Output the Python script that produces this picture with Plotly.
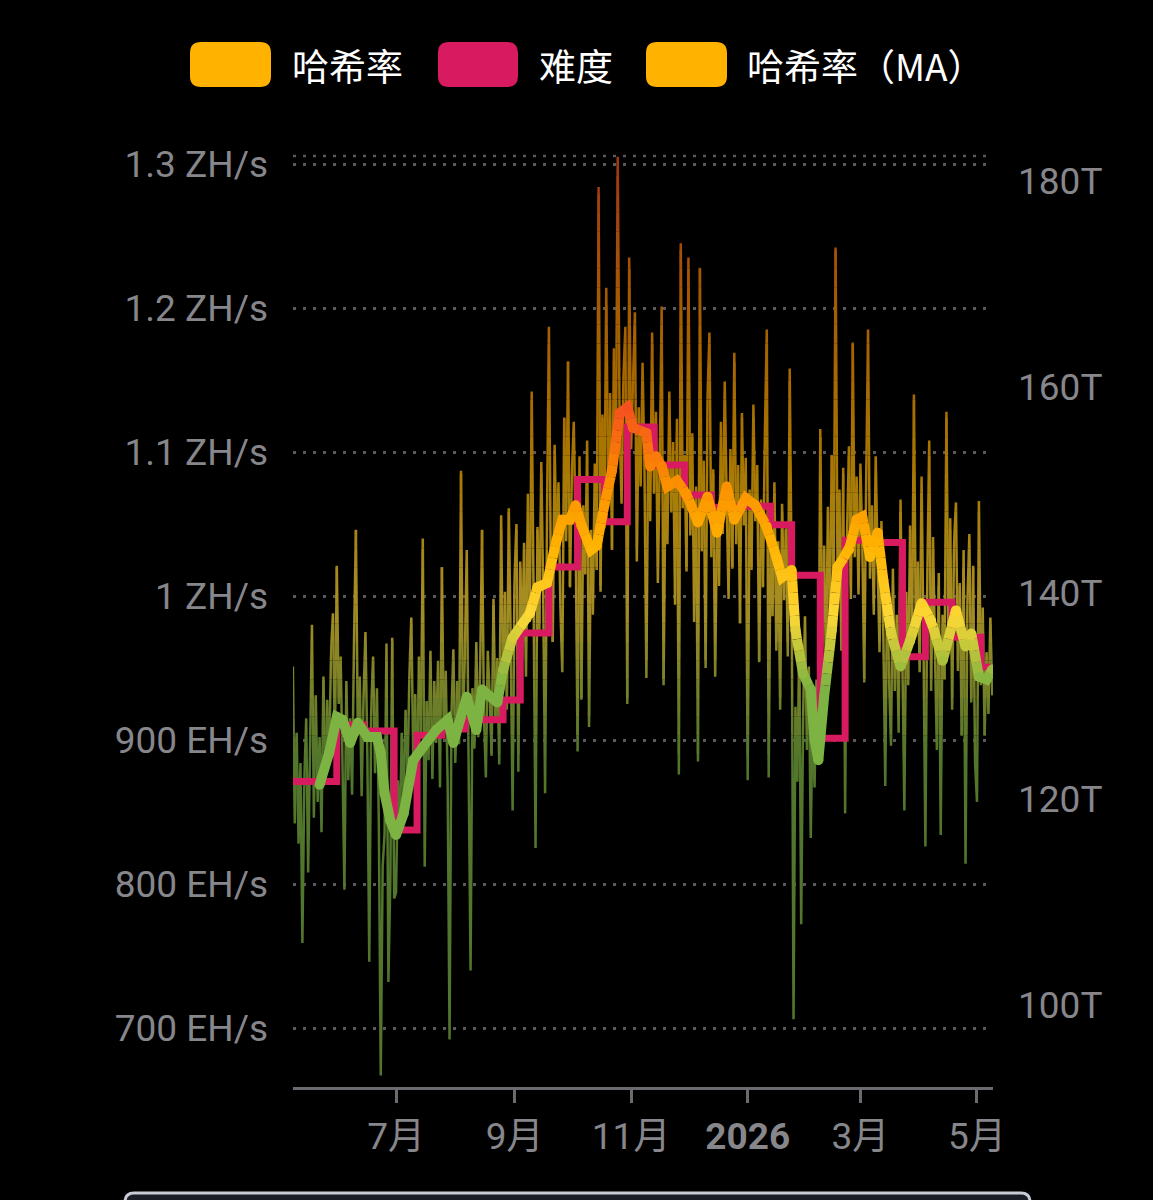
import numpy as np
import pandas as pd
import plotly.graph_objects as go

# ---------------- DATA ----------------
START_DATE = "2025-05-08"
# daily hashrate, EH/s
hr_2025_05 = [951, 842, 905, 828, 884, 759, 872, 915, 808, 893, 980, 846, 931, 857, 902, 836,
              944, 871, 928, 884, 962, 988, 897, 1021]
hr_2025_06 = [925, 958, 883, 796, 941, 872, 915, 862, 967, 1046, 903, 944, 861, 930, 975, 889,
              746, 921, 958, 877, 936, 842, 667, 812, 835, 967, 732, 801, 971, 790]
hr_2025_07 = [794, 872, 836, 905, 858, 921, 874, 946, 985, 889, 932, 864, 958, 901, 1040, 812,
              927, 886, 962, 873, 941, 898, 955, 867, 1020, 903, 948, 871, 692, 918, 963]
hr_2025_08 = [884, 941, 897, 1087, 912, 958, 1032, 879, 740, 936, 894, 968, 902, 947, 1046, 918,
              874, 962, 931, 889, 998, 912, 957, 883, 1056, 934, 1003, 921, 1061, 968, 851]
hr_2025_09 = [1012, 1050, 878, 1024, 958, 1037, 944, 1071, 982, 1142, 996, 825, 1048, 976, 1093,
              1004, 863, 1056, 1187, 1012, 968, 1105, 1031, 1079, 992, 947, 1124, 1038, 1163, 1006]
hr_2025_10 = [1084, 1121, 1042, 892, 1097, 928, 1063, 1015, 1108, 909, 1046, 987, 1092, 1018, 1284,
              1003, 1126, 1047, 1214, 1068, 1141, 1032, 1172, 1089, 1305, 1118, 1064, 1153, 1187,
              925, 1235]
hr_2025_11 = [1102, 1148, 1197, 1024, 1131, 1076, 1162, 1089, 943, 1117, 1052, 1183, 1071, 1128,
              1009, 1094, 1201, 938, 1083, 1036, 1142, 1058, 1107, 994, 1123, 876, 1245, 1061,
              1098, 1017]
hr_2025_12 = [1235, 1042, 1113, 982, 1076, 885, 1228, 1031, 1094, 950, 1139, 1183, 1027, 1088, 944,
              1062, 1007, 1121, 1043, 1149, 1068, 998, 1102, 1019, 1169, 1036, 1091, 981, 1127,
              1049, 1096]
hr_2026_01 = [872, 1074, 1018, 1133, 1052, 1091, 954, 1067, 1006, 1112, 1185, 874, 1043, 986, 1079,
              962, 1038, 921, 1064, 997, 1047, 958, 1158, 1012, 706, 923, 871, 968, 772, 914, 986]
hr_2026_02 = [893, 951, 832, 918, 867, 942, 889, 1116, 964, 1035, 948, 1062, 987, 1098, 1003, 1242,
              1021, 1074, 962, 1089, 849, 1043, 1104, 998, 1176, 1027, 1083, 1001]
hr_2026_03 = [1092, 1036, 940, 1078, 1185, 1012, 1063, 987, 1097, 1024, 961, 1052, 973, 868, 1008,
              942, 896, 1019, 934, 987, 905, 1067, 951, 851, 1003, 938, 1049, 966, 1140, 972, 1024]
hr_2026_04 = [947, 1083, 968, 826, 1012, 1108, 934, 1041, 962, 893, 1016, 834, 987, 942, 1128, 976,
              1054, 921, 1038, 1065, 948, 1009, 903, 1032, 814, 997, 1043, 926, 1021, 884]
hr_2026_05 = [857, 1066, 938, 992, 903, 961, 918, 985, 931]

# moving average of hashrate, EH/s
ma_dates = ["2025-05-22", "2025-05-27", "2025-05-31", "2025-06-03", "2025-06-07", "2025-06-11",
            "2025-06-16", "2025-06-21", "2025-06-23", "2025-06-25", "2025-06-28", "2025-07-01",
            "2025-07-05", "2025-07-10", "2025-07-15", "2025-07-22", "2025-07-28", "2025-07-31",
            "2025-08-07", "2025-08-12", "2025-08-15", "2025-08-23", "2025-08-26", "2025-08-31",
            "2025-09-09", "2025-09-13", "2025-09-18", "2025-09-23", "2025-09-26", "2025-09-30",
            "2025-10-03", "2025-10-06", "2025-10-11", "2025-10-14", "2025-10-18", "2025-10-22",
            "2025-10-26", "2025-10-30", "2025-11-02", "2025-11-09", "2025-11-11", "2025-11-14",
            "2025-11-17", "2025-11-20", "2025-11-25", "2025-11-30", "2025-12-06", "2025-12-11",
            "2025-12-16", "2025-12-21", "2025-12-25", "2025-12-31", "2026-01-05", "2026-01-11",
            "2026-01-16", "2026-01-19", "2026-01-24", "2026-01-26", "2026-01-30", "2026-02-03",
            "2026-02-05", "2026-02-07", "2026-02-10", "2026-02-14", "2026-02-17", "2026-02-23",
            "2026-02-27", "2026-03-02", "2026-03-06", "2026-03-10", "2026-03-13", "2026-03-17",
            "2026-03-22", "2026-03-27", "2026-04-02", "2026-04-07", "2026-04-13", "2026-04-20",
            "2026-04-25", "2026-04-28", "2026-05-02", "2026-05-06", "2026-05-09"]
ma_eh = [869, 891, 916, 914, 898, 912, 902, 902, 891, 863, 844, 834,
         849, 886, 895, 907, 914, 898,
         930, 907, 935, 926, 949, 971,
         988, 1006, 1009, 1039, 1053, 1053,
         1063, 1049, 1032, 1035, 1063, 1087,
         1127, 1131, 1117, 1113, 1090, 1097,
         1090, 1076, 1080, 1071, 1051, 1069,
         1044, 1076, 1053, 1068, 1063, 1048,
         1027, 1013, 1018, 976, 946, 935,
         900, 886, 930, 976, 1020, 1032,
         1053, 1055, 1027, 1044, 1011, 974,
         951, 969, 995, 983, 955, 990,
         965, 974, 944, 942, 949]

# difficulty adjustments, T
diff_dates = ["2025-05-08", "2025-05-31", "2025-06-14", "2025-06-30", "2025-07-12", "2025-07-25",
              "2025-08-06", "2025-08-26", "2025-09-04", "2025-09-19", "2025-10-04", "2025-10-18",
              "2025-10-30", "2025-11-13", "2025-11-29", "2025-12-13", "2025-12-28", "2026-01-13",
              "2026-01-24", "2026-02-08", "2026-02-21", "2026-03-08", "2026-03-23", "2026-04-04",
              "2026-04-18", "2026-05-03", "2026-05-08"]
diff_t = [121.7, 127.2, 126.6, 117.0, 126.2, 126.8, 127.7, 129.6, 136.1, 142.5, 151.0, 146.9,
          156.1, 152.4, 149.5, 148.3, 148.4, 146.6, 141.7, 125.9, 145.1, 144.9, 133.8, 139.1,
          135.7, 132.8, 132.8]

x_tick_dates = ["2025-07-01", "2025-09-01", "2025-11-01", "2026-01-01", "2026-03-01", "2026-05-01"]
x_tick_text = ["7月", "9月", "11月", "<b>2026</b>", "3月", "5月"]
y_tick_vals = [700, 800, 900, 1000, 1100, 1200, 1300]
y_tick_text = ["700 EH/s", "800 EH/s", "900 EH/s", "1 ZH/s", "1.1 ZH/s", "1.2 ZH/s", "1.3 ZH/s"]
y2_tick_vals = [100, 120, 140, 160, 180]
y2_tick_text = ["100T", "120T", "140T", "160T", "180T"]

legend_labels = ["哈希率", "难度", "哈希率（MA）"]

# ---------------- STYLE ----------------
EH_PER_T = 2 ** 32 / 600 / 1e6  # difficulty (T) -> hashrate (EH/s)
GRAD = ["#F4511E", "#FB8C00", "#FFB300", "#FDD835", "#7CB342"]
DIFF_COLOR = "#D81B60"
LEGEND_COLORS = ["#FFB300", DIFF_COLOR, "#FFB300"]
LABEL_GRAY = "#86868b"
GRID_GRAY = "#5a5a5e"
AXIS_GRAY = "#6a6a70"
W, H = 1153, 1200
PL, PR, PT, PB = 293, 993, 156, 1087  # plot area in pixels
Y_MIN = 700 - (PB - 1028) / 1.44
Y_MAX = 700 + (1028 - PT) / 1.44

hashrate_eh = (hr_2025_05 + hr_2025_06 + hr_2025_07 + hr_2025_08 + hr_2025_09 + hr_2025_10 +
               hr_2025_11 + hr_2025_12 + hr_2026_01 + hr_2026_02 + hr_2026_03 + hr_2026_04 +
               hr_2026_05)
dates = pd.date_range(START_DATE, periods=len(hashrate_eh), freq="D")


def hex_rgb(h):
    h = h.lstrip("#")
    return np.array([int(h[i:i + 2], 16) for i in (0, 2, 4)], dtype=float)


def make_color_fn(vmin, vmax, alpha=1.0):
    # echarts-like vertical gradient over the series bounding box (0 -> 0.65)
    span = (vmax - vmin) * 0.65
    stops_v = [vmax - o * span for o in (0, 0.25, 0.5, 0.75, 1.0)][::-1]
    stops_c = [hex_rgb(c) for c in GRAD][::-1]

    def fn(v):
        if v <= stops_v[0]:
            c = stops_c[0]
        elif v >= stops_v[-1]:
            c = stops_c[-1]
        else:
            k = np.searchsorted(stops_v, v) - 1
            t = (v - stops_v[k]) / (stops_v[k + 1] - stops_v[k])
            c = stops_c[k] * (1 - t) + stops_c[k + 1] * t
        c = c * alpha
        return "rgb(%d,%d,%d)" % tuple(np.round(c))
    return fn, stops_v[0], stops_v[-1]


def gradient_traces(xd, yv, nbands, alpha, width, yaxis="y"):
    xs = pd.to_datetime(pd.Series(xd)).astype("int64").to_numpy().astype(float)
    ys = np.asarray(yv, dtype=float)
    fn, lo, hi = make_color_fn(ys.min(), ys.max(), alpha)
    edges = np.linspace(lo, hi, nbands + 1)
    nb = len(edges) + 1
    out = {b: ([], []) for b in range(nb)}
    last = {b: None for b in range(nb)}
    for i in range(len(xs) - 1):
        x0, y0, x1, y1 = xs[i], ys[i], xs[i + 1], ys[i + 1]
        lo_, hi_ = min(y0, y1), max(y0, y1)
        cuts = [e for e in edges if lo_ < e < hi_]
        if y1 < y0:
            cuts = cuts[::-1]
        pts = [(x0, y0)] + [(x0 + (e - y0) / (y1 - y0) * (x1 - x0), e) for e in cuts] + [(x1, y1)]
        for (ax, ay), (bx, by) in zip(pts[:-1], pts[1:]):
            b = int(np.searchsorted(edges, (ay + by) / 2))
            X, Y = out[b]
            if last[b] == (ax, ay):
                X.append(bx); Y.append(by)
            else:
                if X:
                    X.append(None); Y.append(None)
                X += [ax, bx]; Y += [ay, by]
            last[b] = (bx, by)
    traces = []
    for b in range(nb):
        X, Y = out[b]
        if not X:
            continue
        if b == 0:
            v = edges[0] - 1
        elif b == nb - 1:
            v = edges[-1] + 1
        else:
            v = (edges[b - 1] + edges[b]) / 2
        Xd = [None if x is None else pd.Timestamp(int(round(x))) for x in X]
        traces.append(go.Scatter(x=Xd, y=Y, mode="lines", yaxis=yaxis,
                                 line=dict(color=fn(v), width=width),
                                 hoverinfo="skip", showlegend=False))
    return traces, fn


fig = go.Figure()

# raw hashrate (thin, dimmed gradient)
raw_traces, _ = gradient_traces(dates, hashrate_eh, 32, 0.66, 2.5)
for t in raw_traces:
    fig.add_trace(t)

# difficulty step line (plotted in EH/s-equivalent so it sits under the MA line)
diff_eh = [d * EH_PER_T for d in diff_t]
fig.add_trace(go.Scatter(x=diff_dates, y=diff_eh, mode="lines", line_shape="hv",
                         line=dict(color=DIFF_COLOR, width=7), hoverinfo="skip", showlegend=False))

# MA line (thick gradient)
ma_traces, ma_fn = gradient_traces(ma_dates, ma_eh, 24, 1.0, 10)
for t in ma_traces:
    fig.add_trace(t)
fig.add_trace(go.Scatter(x=ma_dates, y=ma_eh, mode="markers",
                         marker=dict(size=10, color=[ma_fn(v) for v in ma_eh], line=dict(width=0)),
                         hoverinfo="skip", showlegend=False))

# difficulty axis carrier (transparent)
fig.add_trace(go.Scatter(x=diff_dates, y=diff_t, yaxis="y2", mode="lines",
                         line=dict(color="rgba(0,0,0,0)", width=1), hoverinfo="skip",
                         showlegend=False))


def px_x(px):
    return (px - PL) / (PR - PL)


def px_y(py):
    return (PB - py) / (PB - PT)


def rrect_path(x0, y0, x1, y1, r):
    X, Y = px_x, px_y
    return (f"M {X(x0 + r)},{Y(y0)} L {X(x1 - r)},{Y(y0)} Q {X(x1)},{Y(y0)} {X(x1)},{Y(y0 + r)} "
            f"L {X(x1)},{Y(y1 - r)} Q {X(x1)},{Y(y1)} {X(x1 - r)},{Y(y1)} "
            f"L {X(x0 + r)},{Y(y1)} Q {X(x0)},{Y(y1)} {X(x0)},{Y(y1 - r)} "
            f"L {X(x0)},{Y(y0 + r)} Q {X(x0)},{Y(y0)} {X(x0 + r)},{Y(y0)} Z")


shapes = []
annotations = []
swatches = [(190, 271, 290), (438, 518, 537), (646, 727, 745)]
for (sx0, sx1, tx), lab, col in zip(swatches, legend_labels, LEGEND_COLORS):
    shapes.append(dict(type="path", xref="paper", yref="paper", path=rrect_path(sx0, 42, sx1, 87, 11),
                       fillcolor=col, line=dict(width=0), layer="above"))
    annotations.append(dict(x=px_x(tx), y=px_y(65), xref="paper", yref="paper", text=lab,
                            showarrow=False, xanchor="left", yanchor="middle",
                            font=dict(family="Noto Sans CJK SC", size=37, color="#ffffff")))

# top border dotted line of the grid
shapes.append(dict(type="line", xref="paper", yref="paper", x0=0, x1=1, y0=1, y1=1,
                   line=dict(color=GRID_GRAY, width=2.5, dash="3px,7px"), layer="below"))
# bottom slider frame (partially visible)
shapes.append(dict(type="path", xref="paper", yref="paper", path=rrect_path(125, 1193, 1030, 1240, 9),
                   fillcolor="#1b1e27", line=dict(color="#c9ccd4", width=3), layer="above"))

tick_font = dict(family="Roboto, Noto Sans CJK SC", size=37, color=LABEL_GRAY)

fig.update_layout(
    width=W, height=H,
    margin=dict(l=PL, r=W - PR, t=PT, b=H - PB, pad=0),
    paper_bgcolor="#000000", plot_bgcolor="#000000",
    showlegend=False,
    shapes=shapes, annotations=annotations,
    xaxis=dict(type="date", range=["2025-05-08 02:00", "2026-05-09 09:00"],
               tickvals=x_tick_dates, ticktext=x_tick_text, tickfont=tick_font,
               showgrid=False, zeroline=False, showline=True, linecolor=AXIS_GRAY, linewidth=3,
               ticks="outside", ticklen=13, tickwidth=2.5, tickcolor=AXIS_GRAY,
               ticklabelstandoff=2),
    yaxis=dict(range=[Y_MIN, Y_MAX], tickvals=y_tick_vals, ticktext=y_tick_text,
               tickfont=tick_font, showgrid=True, gridcolor=GRID_GRAY, gridwidth=2.5,
               griddash="3px,7px", zeroline=False, showline=False, ticks="",
               ticklabelstandoff=24),
    yaxis2=dict(range=[Y_MIN / EH_PER_T, Y_MAX / EH_PER_T], overlaying="y", side="right",
                tickvals=y2_tick_vals, ticktext=y2_tick_text, tickfont=tick_font,
                showgrid=False, zeroline=False, showline=False, ticks="",
                ticklabelstandoff=24),
)

fig.write_html("out.html",
               config={"displayModeBar": False},
               post_script="document.body.style.margin='0';"
                           "document.body.style.background='#000';")
